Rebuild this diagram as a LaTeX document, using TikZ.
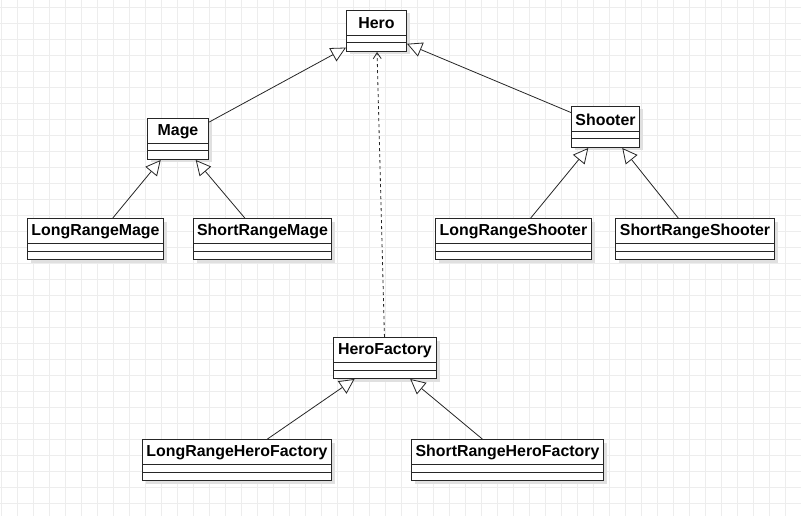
\documentclass[tikz,border=0pt]{standalone}
\usepackage{fontspec}
\setmainfont{Liberation Sans}
\usetikzlibrary{arrows.meta,shadows}
\tikzset{
  classbox/.style={draw=black!85, line width=1pt, fill=white, rectangle, inner sep=0pt,
    minimum height=41pt, anchor=north west,
    drop shadow={shadow xshift=3pt, shadow yshift=-3pt, fill=black!12, opacity=1}},
  classtitle/.style={font=\fontsize{15.9}{19}\selectfont\bfseries, inner sep=0pt, anchor=center},
  compline/.style={draw=black!85, line width=1pt},
  inherit/.style={draw=black!85, line width=0.8pt, -{Triangle[open, fill=white, length=15pt, width=15pt, line width=0.8pt]}},
  depends/.style={draw=black!85, line width=0.8pt, dash pattern=on 3pt off 3pt, -{Straight Barb[length=6pt, width=8pt, line width=0.8pt]}},
  gridline/.style={draw=black!7, line width=0.8pt}
}
\newcommand{\umlclass}[5]{%
  \node[classbox, minimum width=#4pt] (#1) at (#2,#3) {};
  \node[classtitle] (#1-title) at ([yshift=-13.5pt]#1.north) {#5};
  \draw[compline] ([yshift=-25.5pt]#1.north west) -- ([yshift=-25.5pt]#1.north east);
  \draw[compline] ([yshift=-33pt]#1.north west) -- ([yshift=-33pt]#1.north east);
}
\begin{document}
\begin{tikzpicture}[x=1pt,y=-1pt]
  \useasboundingbox (0,0) rectangle (801,516);
  \fill[white] (0,0) rectangle (801,516);
  \foreach \gx in {1,17,...,801} { \draw[gridline] (\gx,0) -- (\gx,516); }
  \foreach \gy in {7,23,...,516} { \draw[gridline] (0,\gy) -- (801,\gy); }

  \umlclass{hero}{346}{10}{60}{Hero}
  \umlclass{mage}{147}{118}{61}{Mage}
  \umlclass{shooter}{571}{106}{68}{Shooter}
  \umlclass{lrm}{27}{218}{136}{LongRangeMage}
  \umlclass{srm}{193}{218}{138}{ShortRangeMage}
  \umlclass{lrs}{435}{218}{156}{LongRangeShooter}
  \umlclass{srs}{615}{218}{159}{ShortRangeShooter}
  \umlclass{hf}{333}{337}{103}{HeroFactory}
  \umlclass{lrhf}{142}{439}{189}{LongRangeHeroFactory}
  \umlclass{srhf}{411}{439}{192}{ShortRangeHeroFactory}

  \draw[inherit] (mage) -- (hero);
  \draw[inherit] (shooter) -- (hero);
  \draw[inherit] (lrm) -- (mage);
  \draw[inherit] (srm) -- (mage);
  \draw[inherit] (lrs) -- (shooter);
  \draw[inherit] (srs) -- (shooter);
  \draw[inherit] (lrhf) -- (hf);
  \draw[inherit] (srhf) -- (hf);
  \draw[depends] (hf) -- (hero);
\end{tikzpicture}
\end{document}
